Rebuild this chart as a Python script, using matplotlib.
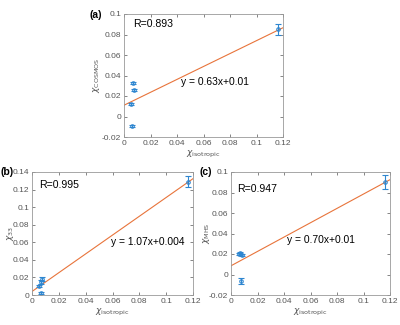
import matplotlib
matplotlib.use("Agg")
import matplotlib.pyplot as plt
import numpy as np

plt.rcParams['font.family'] = ['Liberation Sans', 'DejaVu Sans']

# Data
x_iso = [0.005, 0.007, 0.0075, 0.006, 0.116]
y_cosmos = [0.012, 0.033, 0.026, -0.009, 0.085]
e_cosmos = [0.001, 0.001, 0.001, 0.001, 0.005]
x_iso_b = [0.005, 0.007, 0.0075, 0.0065, 0.116]
y_33 = [0.010, 0.015, 0.018, 0.002, 0.129]
e_33 = [0.001, 0.002, 0.002, 0.001, 0.006]
x_iso_c = [0.006, 0.007, 0.008, 0.0075, 0.116]
y_mhs = [0.020, 0.0205, 0.019, -0.006, 0.090]
e_mhs = [0.001, 0.001, 0.001, 0.003, 0.007]

fits = [(0.63, 0.011), (1.07, 0.004), (0.70, 0.0085)]
r_labels = ["R=0.893", "R=0.995", "R=0.947"]
eq_labels = ["y = 0.63x+0.01", "y = 1.07x+0.004", "y = 0.70x+0.01"]
ylabels = [r"$\chi_{\mathrm{COSMOS}}$", r"$\chi_{33}$", r"$\chi_{\mathrm{MHS}}$"]
panel_labels = ["(a)", "(b)", "(c)"]
xticks = [0, 0.02, 0.04, 0.06, 0.08, 0.1, 0.12]
xtick_labels = ["0", "0.02", "0.04", "0.06", "0.08", "0.1", "0.12"]
yticks_a = [-0.02, 0, 0.02, 0.04, 0.06, 0.08, 0.1]
yticks_a_lab = ["-0.02", "0", "0.02", "0.04", "0.06", "0.08", "0.1"]
yticks_b = [0, 0.02, 0.04, 0.06, 0.08, 0.1, 0.12, 0.14]
yticks_b_lab = ["0", "0.02", "0.04", "0.06", "0.08", "0.1", "0.12", "0.14"]

fig = plt.figure(figsize=(4, 3.25), dpi=100)
positions = [
    [124/400, 1-137/325, 159/400, 123/325],
    [32/400, 1-295/325, 161/400, 123/325],
    [231/400, 1-295/325, 159/400, 123/325],
]
xs = [x_iso, x_iso_b, x_iso_c]
ys = [y_cosmos, y_33, y_mhs]
es = [e_cosmos, e_33, e_mhs]
ylims = [(-0.02, 0.1), (0, 0.14), (-0.02, 0.1)]
yt = [(yticks_a, yticks_a_lab), (yticks_b, yticks_b_lab), (yticks_a, yticks_a_lab)]
rpos = [(0.007, 0.087), (0.005, 0.122), (0.005, 0.080)]
eqpos = [(0.043, 0.031), (0.059, 0.057), (0.042, 0.031)]
plabel_pos = [(89/400, 1-15/325), (0.5/400, 1-172/325), (199.5/400, 1-172/325)]
ylabel_x = [-0.138, -0.10, -0.12]
xlabel_y = -0.10

gray = "#555555"
blue = "#2E86D0"
orange = "#E8743B"

for i in range(3):
    ax = fig.add_axes(positions[i])
    xl = np.array([0, 0.12])
    m, b = fits[i]
    ax.plot(xl, m*xl + b, color=orange, lw=0.8, zorder=1)
    ax.errorbar(xs[i], ys[i], yerr=es[i], fmt='o', ms=2.5, mfc='none', mec=blue,
                ecolor=blue, elinewidth=0.8, capsize=2, capthick=0.8, mew=0.8, zorder=2)
    ax.set_xlim(0, 0.12)
    ax.set_ylim(*ylims[i])
    ax.set_xticks(xticks)
    ax.set_xticklabels(xtick_labels)
    ax.set_yticks(yt[i][0])
    ax.set_yticklabels(yt[i][1])
    ax.tick_params(direction='in', length=2, width=0.5, labelsize=6, colors=gray,
                   labelcolor=gray, pad=2, top=True, right=True)
    for s in ax.spines.values():
        s.set_color("#999999")
        s.set_linewidth(0.6)
    ax.set_xlabel(r"$\chi_{\mathrm{isotropic}}$", fontsize=6.5, color=gray)
    ax.set_ylabel(ylabels[i], fontsize=6.5, color=gray)
    ax.yaxis.set_label_coords(ylabel_x[i], 0.5)
    ax.xaxis.set_label_coords(0.5, xlabel_y)
    ax.text(rpos[i][0], rpos[i][1], r_labels[i], fontsize=7.6, color='black')
    ax.text(eqpos[i][0], eqpos[i][1], eq_labels[i], fontsize=7.4, color='black')
    fig.text(plabel_pos[i][0], plabel_pos[i][1], panel_labels[i], fontsize=7.5,
             fontweight='bold', va='center', ha='left')

fig.savefig("out.png", dpi=100)
